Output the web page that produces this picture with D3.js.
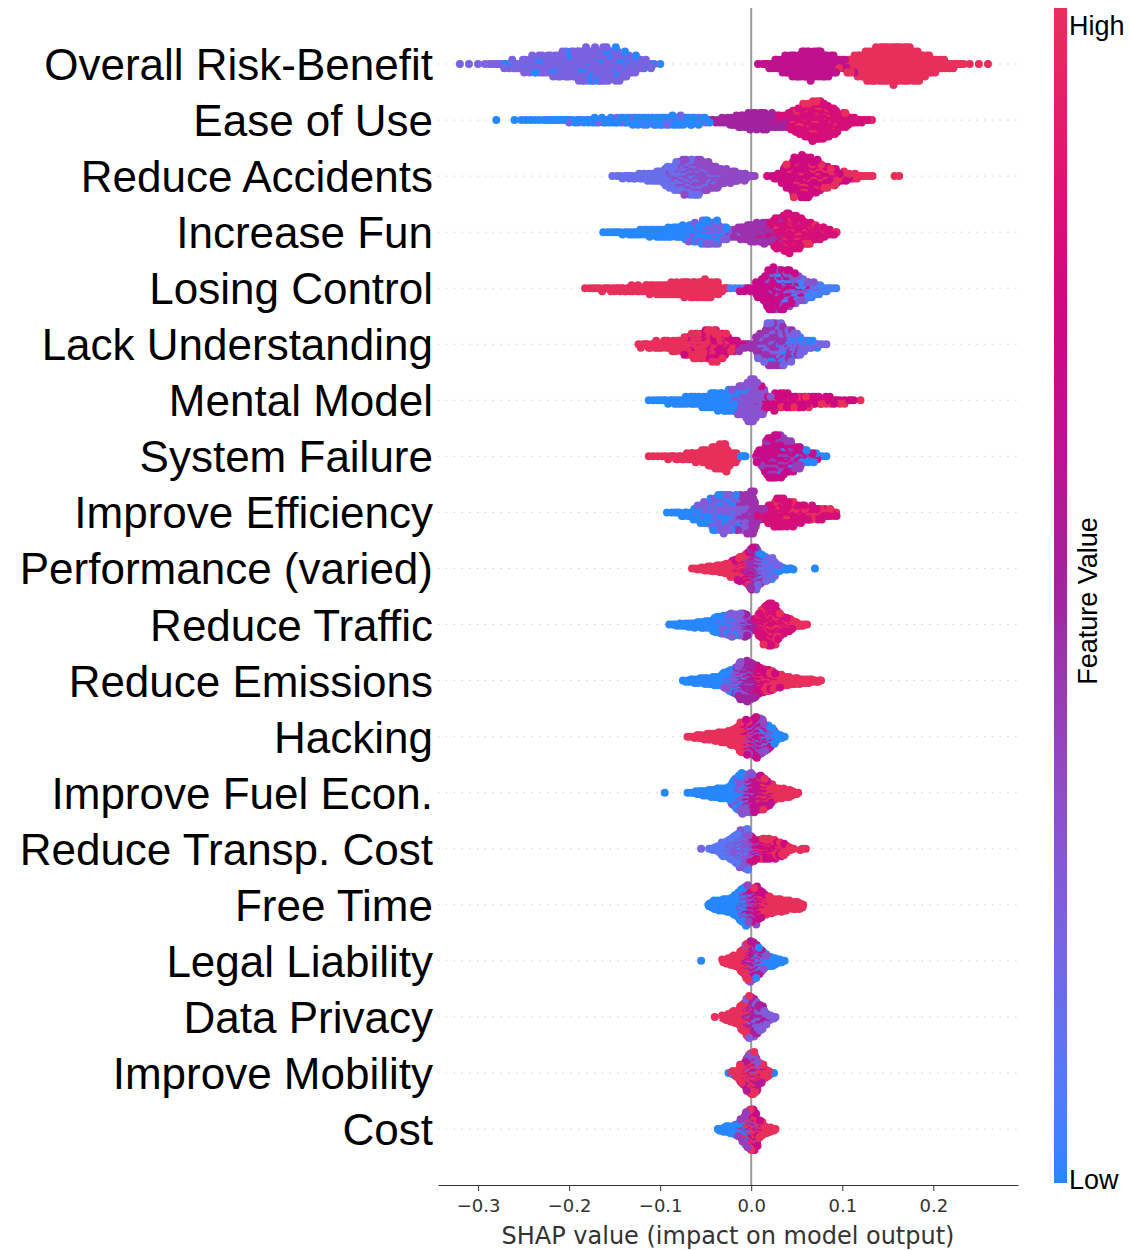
<!DOCTYPE html>
<html><head><meta charset="utf-8">
<script src="https://cdn.jsdelivr.net/npm/d3@7"></script>
<style>body{margin:0;background:#fff}</style>
</head><body>
<svg id="chart" width="1130" height="1250"></svg>
<script>
// ---------------- DATA ----------------
const features = [
  "Overall Risk-Benefit","Ease of Use","Reduce Accidents","Increase Fun","Losing Control",
  "Lack Understanding","Mental Model","System Failure","Improve Efficiency","Performance (varied)",
  "Reduce Traffic","Reduce Emissions","Hacking","Improve Fuel Econ.","Reduce Transp. Cost",
  "Free Time","Legal Liability","Data Privacy","Improve Mobility","Cost"
];
// histogram bin width (SHAP units) used for each feature's counts
const binStep = [0.01,0.01,0.01,0.01,0.01,0.01,0.01,0.01,0.01,
                 0.005,0.005,0.005,0.005,0.005,0.005,0.005,0.005,0.005,0.005,0.005];
// per feature: [feature value (0=low,1=high), first bin centre (SHAP value), counts per bin]
const shapHist = [
  [[0.22,-0.32,[1,1,1,2,3,4,6,8,10,12,14,16,18,20,21,22,22,20,16,11,7,3]],
   [0,-0.27,[1,1,1,2,2,2,3,3,3,4,4,4,4,4,3,2,1,1]],
   [0.65,0.01,[2,5,10,15,19,22,22,20,14,7,3]],
   [1,0.10,[3,10,18,24,27,28,28,27,24,18,12,8,5,3,1,1,1]]],
  [[0,-0.28,[1,0,1,2,2,2,3,3,3,4,4,5,5,6,6,7,8,8,9,10,10,10,9,6]],
   [0.2,-0.20,[1,1,1,2,2,2,3,3,3,3,3,3,2,2,2,1]],
   [0.5,-0.04,[4,8,13,18,22,24,20,12,5]],
   [0.8,0.03,[6,15,27,38,44,40,30,18,9,4,2]],
   [1,0.05,[5,7,9,7,5,3,2,1,1]]],
  [[0.15,-0.15,[2,4,6,8,12,16,20,24,20,16,10,6]],
   [0.35,-0.09,[8,16,28,32,28,24,20,16,10,4]],
   [0.75,0.02,[2,10,28,44,44,32,20,12,6,2]],
   [1,0.04,[4,8,12,12,12,10,8,6,4,3]],
   [1,0.16,[2]]],
  [[0,-0.16,[2,3,4,6,8,10,12,14,16,17,18,20,14,6]],
   [0.25,-0.07,[4,8,14,16,12,6]],
   [0.45,-0.02,[6,16,24,24,16,6]],
   [0.8,0.01,[4,12,32,44,36,24,16,10,4]],
   [1,0.03,[4,8,8,8,6,4,2]]],
  [[1,-0.18,[2,3,4,5,6,7,8,10,12,13,15,17,18,20,15,5]],
   [0.05,-0.02,[2,2]],
   [0.7,-0.01,[2,6,20,36,30,18,8,3]],
   [0.3,0.02,[6,10,12,12,8,4]],
   [0.05,0.03,[4,8,10,10,10,7,3]]],
  [[1,-0.12,[4,6,8,10,12,15,18,19,16,10,5]],
   [0.75,-0.07,[3,6,9,12,12,8,3]],
   [0.45,-0.01,[3,6,18,24,20,12,6]],
   [0.2,0.01,[6,12,16,14,12,8,4,2]],
   [0,0.02,[2,4,4,4,4,2]]],
  [[0,-0.11,[2,3,4,6,8,10,12,16,18,16,6]],
   [0.3,-0.02,[6,22,40,22,4]],
   [0.75,0.01,[4,10,12,11,9,8,6,5,4,2,2]],
   [1,0.03,[3,3,3,3,3,2,2,2,1,1]]],
  [[1,-0.11,[2,2,4,6,8,11,16,24,29,12]],
   [0,-0.01,[4]],
   [0.7,0.01,[14,34,30,20,12,6,2]],
   [0.4,0.01,[4,10,12,10,8,4,2]],
   [0,0.03,[2,4,4,6,4,2]]],
  [[0,-0.09,[2,4,6,10,12,14,12,8]],
   [0.25,-0.06,[4,8,16,24,24,16]],
   [0.45,-0.01,[14,40,8]],
   [0.8,0.01,[2,18,24,20,14,10,8,6,4]],
   [1,0.03,[4,4,4,4,4,4,3]]],
  [[1,-0.065,[1,2,4,6,8,9,12,15,18,21,27,24,15]],
   [0.7,-0.02,[6,9,15,18,18,9]],
   [0.45,-0.005,[18,48,48,18]],
   [0.2,0.005,[12,24,27,24,15,6]],
   [0,0.01,[6,12,12,9,6,5,3,2]],
   [0,0.07,[1]]],
  [[0,-0.09,[1,2,3,4,5,6,8,9,10,12,14,15,15,12,9]],
   [0.25,-0.04,[6,9,12,18,24,27,24,15]],
   [0.5,-0.01,[9,15,15,6]],
   [0.8,0.005,[12,30,42,45,39,24,15,9,6]],
   [1,0.01,[6,12,15,15,12,9,9,6,6,3,2]]],
  [[0,-0.075,[1,3,5,6,8,9,9,12,12,15,15,12,9]],
   [0.3,-0.03,[6,12,18,21,18,12,6]],
   [0.5,-0.015,[12,30,42,30,12]],
   [0.75,0,[12,24,24,18,12,6,3]],
   [1,0.005,[6,9,12,15,15,15,12,12,9,9,6,6,6,3,3]]],
  [[1,-0.07,[1,2,4,5,6,8,9,12,12,15,18,24,27,18]],
   [0.7,-0.01,[6,15,24,27,21,12,6]],
   [0.35,-0.005,[6,12,15,15,12,9,6]],
   [0,0.005,[3,6,6,9,9,6,3]]],
  [[0,-0.095,[1]],[0,-0.07,[1]],
   [0,-0.065,[2,4,6,6,9,9,12,12,15,18,21,18]],
   [0.3,-0.02,[9,18,27,27,15]],
   [0.65,-0.005,[12,30,36,30,18,9]],
   [1,0.01,[9,15,15,15,12,12,9,6,3]]],
  [[0.2,-0.055,[1]],
   [0.1,-0.045,[2,5,9,12,15,18,21,24,21]],
   [0.3,-0.03,[6,9,12,18,24,30,24,9]],
   [0.75,0,[9,15,18,18,15,12,9,6]],
   [1,0.01,[6,9,9,12,9,9,6,3]],
   [1,0.055,[2,1]]],
  [[0,-0.045,[6,10,12,15,15,18,21,21,15]],
   [0.35,-0.015,[9,15,21,18,9]],
   [0.7,-0.005,[9,18,24,15,6]],
   [1,0.005,[9,15,18,18,15,15,12,12,9,9,6]]],
  [[0,-0.055,[1]],
   [1,-0.03,[4,9,12,15,18,18,9]],
   [0.6,-0.01,[9,18,27,18,9]],
   [0.3,-0.005,[6,12,15,12,6]],
   [0,0.005,[6,9,12,12,9,6,3]]],
  [[1,-0.04,[1]],
   [1,-0.03,[4,9,12,15,18,15,9]],
   [0.55,-0.01,[9,18,24,18,12,6]],
   [0.25,-0.005,[6,12,15,15,9,6,3]]],
  [[0,-0.025,[1,1]],[0,0.02,[1,1]],
   [1,-0.02,[4,9,12,18,21,18,12,9,4]],
   [0.6,-0.01,[6,12,15,12,6]],
   [0.3,-0.005,[3,6,6,3]]],
  [[0,-0.035,[3,6,9,9,9,9,6]],
   [0.4,-0.015,[6,9,12,9,6]],
   [1,-0.01,[6,12,24,18,12,9,6,3]],
   [0.7,-0.005,[9,15,12,6]]]
];
const xTicks = [-0.3,-0.2,-0.1,0.0,0.1,0.2];
const xLabel = "SHAP value (impact on model output)";
const cbarLabels = ["High","Low"];
const cbarTitle = "Feature Value";

// ---------------- COLOUR MAP (red-blue, LCH path through dark purple) ----------------
function shapColor(t){
  const L = t < 0.5 ? 56 + (40-56)*(t/0.5) : 40 + (52.5-40)*((t-0.5)/0.5);
  const C = 70 + (74-70)*t;
  const H = 276 + (378-276)*t;
  const c = d3.hcl(H % 360, C, L).rgb();
  return d3.rgb(Math.max(0,Math.min(255,c.r)),Math.max(0,Math.min(255,c.g)),Math.max(0,Math.min(255,c.b))).formatHex();
}

// ---------------- LAYOUT ----------------
const svg = d3.select("#chart");
svg.append("rect").attr("width",1130).attr("height",1250).attr("fill","#fff");
const x = d3.scaleLinear().domain([-0.344, 0.293]).range([438, 1018]);
const y = d3.scaleLinear().domain([0, features.length-1]).range([64, 1129]);
const spacing = y(1)-y(0);
const axisY = 1185;
const stackPx = 3;   // horizontal width of a stacking column, pixels

// grid lines
svg.append("g").selectAll("line").data(features).join("line")
  .attr("x1", x.range()[0]).attr("x2", x.range()[1])
  .attr("y1", (d,i)=>y(i)).attr("y2",(d,i)=>y(i))
  .attr("stroke","#cccccc").attr("stroke-width",1).attr("stroke-dasharray","1.3,6.5");

// zero line
svg.append("line").attr("x1",x(0)).attr("x2",x(0)).attr("y1",8).attr("y2",axisY)
  .attr("stroke","#999999").attr("stroke-width",2);

// points (beeswarm stacking like shap.summary_plot)
const dotG = svg.append("g");
for (let i = features.length-1; i >= 0; i--) {
  const step = binStep[i];
  const pts = [];
  shapHist[i].forEach(([c, start, counts]) => {
    counts.forEach((n, k) => {
      const center = start + k*step;
      for (let j = 0; j < n; j++) pts.push({v: center + ((j+0.5)/n - 0.5)*step, c});
    });
  });
  pts.forEach((p, idx) => {
    p.q = Math.round(x(p.v)/stackPx);
    p.key = (idx*0.7548776662 + 0.137) % 1;
  });
  const ord = pts.slice().sort((a,b)=> a.q-b.q || a.key-b.key);
  let layer = 0, last = -1;
  ord.forEach(p => {
    if (p.q !== last) layer = 0;
    p.ys = Math.ceil(layer/2) * ((layer%2)*2-1);
    layer++; last = p.q;
  });
  const maxYs = d3.max(pts, p=>Math.abs(p.ys)) || 1;
  const sc = 0.375*spacing / maxYs;
  const drawn = pts.slice().sort((a,b)=>a.key-b.key);
  dotG.append("g").selectAll("circle").data(drawn).join("circle")
    .attr("cx", p=>x(p.v)).attr("cy", p=>y(i) + p.ys*sc)
    .attr("r", 4).attr("fill", p=>shapColor(p.c));
}

// feature labels
svg.append("g").selectAll("text").data(features).join("text")
  .attr("x", 433).attr("y",(d,i)=>y(i)+16)
  .attr("text-anchor","end")
  .style("font-family","'Liberation Sans', Arial, sans-serif").style("font-size","44px")
  .attr("fill","#000").text(d=>d);

// x axis
const ax = svg.append("g").attr("transform",`translate(0,${axisY})`)
  .call(d3.axisBottom(x).tickValues(xTicks).tickFormat(d3.format(".1f")).tickSize(6).tickSizeOuter(0).tickPadding(8));
ax.select(".domain").attr("stroke","#333").attr("stroke-width",1.2);
ax.selectAll(".tick line").attr("stroke","#333");
ax.selectAll(".tick text").attr("fill","#333")
  .style("font-family","'DejaVu Sans', sans-serif").style("font-size","18px");
svg.append("text").attr("x",(x.range()[0]+x.range()[1])/2).attr("y",1244)
  .attr("text-anchor","middle").attr("fill","#333")
  .style("font-family","'DejaVu Sans', sans-serif").style("font-size","24px").text(xLabel);

// colour bar
const defs = svg.append("defs");
const grad = defs.append("linearGradient").attr("id","cbar").attr("x1",0).attr("y1",1).attr("x2",0).attr("y2",0);
grad.selectAll("stop").data(d3.range(0,101)).join("stop")
  .attr("offset",d=>d+"%").attr("stop-color",d=>shapColor(d/100));
svg.append("rect").attr("x",1054).attr("y",8).attr("width",13).attr("height",axisY-2-8)
  .attr("fill","url(#cbar)");
svg.append("text").attr("x",1069).attr("y",35).text(cbarLabels[0])
  .style("font-family","'Liberation Sans', Arial, sans-serif").style("font-size","27px").attr("fill","#000");
svg.append("text").attr("x",1069).attr("y",1189).text(cbarLabels[1])
  .style("font-family","'Liberation Sans', Arial, sans-serif").style("font-size","27px").attr("fill","#000");
svg.append("text").attr("transform","translate(1097,601) rotate(-90)")
  .attr("text-anchor","middle").text(cbarTitle)
  .style("font-family","'Liberation Sans', Arial, sans-serif").style("font-size","27px").attr("fill","#000");
</script>
</body></html>
